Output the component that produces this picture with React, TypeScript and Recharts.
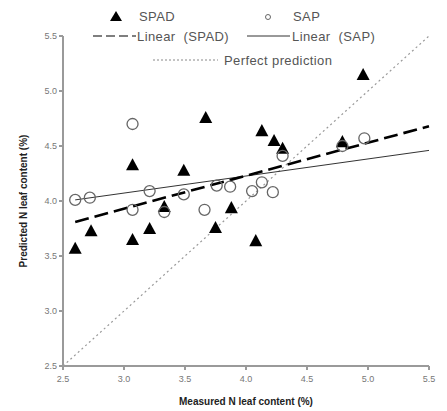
// Measured vs predicted N leaf content: SPAD and SAP readings with linear fits.

import React from 'react'
import {
  ScatterChart,
  Scatter,
  XAxis,
  YAxis,
  ReferenceLine,
  Legend,
} from 'recharts'

const spadMeasured = [2.6, 2.73, 3.07, 3.07, 3.21, 3.33, 3.49, 3.67, 3.75, 3.88, 4.08, 4.13, 4.23, 4.3, 4.79, 4.96]
const spadPredicted = [3.57, 3.73, 3.65, 4.33, 3.75, 3.95, 4.28, 4.76, 3.76, 3.94, 3.64, 4.64, 4.55, 4.48, 4.54, 5.15]

const sapMeasured = [2.6, 2.72, 3.07, 3.07, 3.21, 3.33, 3.49, 3.66, 3.76, 3.87, 4.05, 4.13, 4.22, 4.3, 4.79, 4.97]
const sapPredicted = [4.01, 4.03, 4.7, 3.92, 4.09, 3.9, 4.06, 3.92, 4.14, 4.13, 4.09, 4.17, 4.08, 4.41, 4.5, 4.57]

// fitted line end points [x, y]
const spadFit = [[2.6, 3.81], [5.5, 4.68]]
const sapFit = [[2.6, 4.01], [5.5, 4.46]]
const perfectLine = [[2.5, 2.5], [5.5, 5.5]]

const xTicks = [2.5, 3.0, 3.5, 4.0, 4.5, 5.0, 5.5]
const yTicks = [2.5, 3.0, 3.5, 4.0, 4.5, 5.0, 5.5]

const spadData = spadMeasured.map((x, i) => ({ x, y: spadPredicted[i] }))
const sapData = sapMeasured.map((x, i) => ({ x, y: sapPredicted[i] }))

const AXIS_COLOR = '#9a9a9a'
const TEXT_COLOR = '#555'
const FONT = 'Arial, "Liberation Sans", sans-serif'

function Triangle(props: any) {
  const { cx, cy } = props
  const s = 6.5
  return <path d={`M${cx},${cy - s} L${cx + s},${cy + s * 0.85} L${cx - s},${cy + s * 0.85} Z`} fill="#000" />
}

function Circle(props: any) {
  const { cx, cy } = props
  return <circle cx={cx} cy={cy} r={5.5} fill="none" stroke="#666" strokeWidth={1.3} />
}

function LegendBox() {
  const txt = { fontSize: 13, fill: TEXT_COLOR, fontFamily: FONT, letterSpacing: 0.4 }
  return (
    <svg width={447} height={70} style={{ position: 'absolute', left: 0, top: 0 }}>
      <path d="M116,11 L122,21 L110,21 Z" fill="#000" />
      <text x={139} y={21} {...txt}>SPAD</text>
      <circle cx={268} cy={17} r={2.5} fill="none" stroke="#666" strokeWidth={1} />
      <text x={293} y={21} {...txt}>SAP</text>

      <line x1={93} y1={36} x2={136} y2={36} stroke="#000" strokeWidth={1.2} strokeDasharray="9 4" />
      <text x={137} y={41} {...txt} xmlSpace="preserve">Linear  (SPAD)</text>
      <line x1={247} y1={36} x2={290} y2={36} stroke="#333" strokeWidth={1} />
      <text x={292} y={41} {...txt} xmlSpace="preserve">Linear  (SAP)</text>

      <line x1={153} y1={60} x2={218} y2={60} stroke="#888" strokeWidth={1} strokeDasharray="2 2" />
      <text x={224} y={65} {...txt}>Perfect prediction</text>
    </svg>
  )
}

export default function App() {
  return (
    <div style={{ position: 'absolute', left: 0, top: 0, width: 447, height: 411, background: '#fff' }}>
      <ScatterChart width={447} height={411} margin={{ top: 36, right: 18, left: 13, bottom: 14 }}>
        <XAxis
          type="number"
          dataKey="x"
          domain={[2.5, 5.5]}
          ticks={xTicks}
          tickFormatter={(v: number) => v.toFixed(1)}
          stroke={AXIS_COLOR}
          strokeWidth={2}
          tickSize={4}
          tickMargin={6}
          tick={{ fontSize: 9, fill: '#777', fontFamily: FONT }}
          height={31}
          label={{
            value: 'Measured N leaf content (%)',
            position: 'insideBottom',
            offset: -8,
            style: { fontSize: 10, fontWeight: 'bold', fill: '#222', fontFamily: FONT },
          }}
        />
        <YAxis
          type="number"
          dataKey="y"
          domain={[2.5, 5.5]}
          ticks={yTicks}
          tickFormatter={(v: number) => v.toFixed(1)}
          stroke={AXIS_COLOR}
          strokeWidth={2}
          tickSize={4}
          tick={{ fontSize: 9, fill: '#777', fontFamily: FONT }}
          width={50}
          label={{
            value: 'Predicted N leaf content (%)',
            angle: -90,
            position: 'insideLeft',
            offset: 10,
            style: { fontSize: 10, fontWeight: 'bold', fill: '#222', fontFamily: FONT, textAnchor: 'middle' },
          }}
        />
        <ReferenceLine
          segment={perfectLine.map(([x, y]) => ({ x, y }))}
          stroke="#999"
          strokeWidth={1.2}
          strokeDasharray="2 3"
          ifOverflow="hidden"
        />
        <ReferenceLine
          segment={sapFit.map(([x, y]) => ({ x, y }))}
          stroke="#333"
          strokeWidth={1}
        />
        <ReferenceLine
          segment={spadFit.map(([x, y]) => ({ x, y }))}
          stroke="#000"
          strokeWidth={2.6}
          strokeDasharray="14 6"
        />
        <Scatter name="SPAD" data={spadData} shape={<Triangle />} isAnimationActive={false} />
        <Scatter name="SAP" data={sapData} shape={<Circle />} isAnimationActive={false} />
        <Legend content={<LegendBox />} wrapperStyle={{ position: 'absolute', left: 0, top: 0 }} />
      </ScatterChart>
    </div>
  )
}
